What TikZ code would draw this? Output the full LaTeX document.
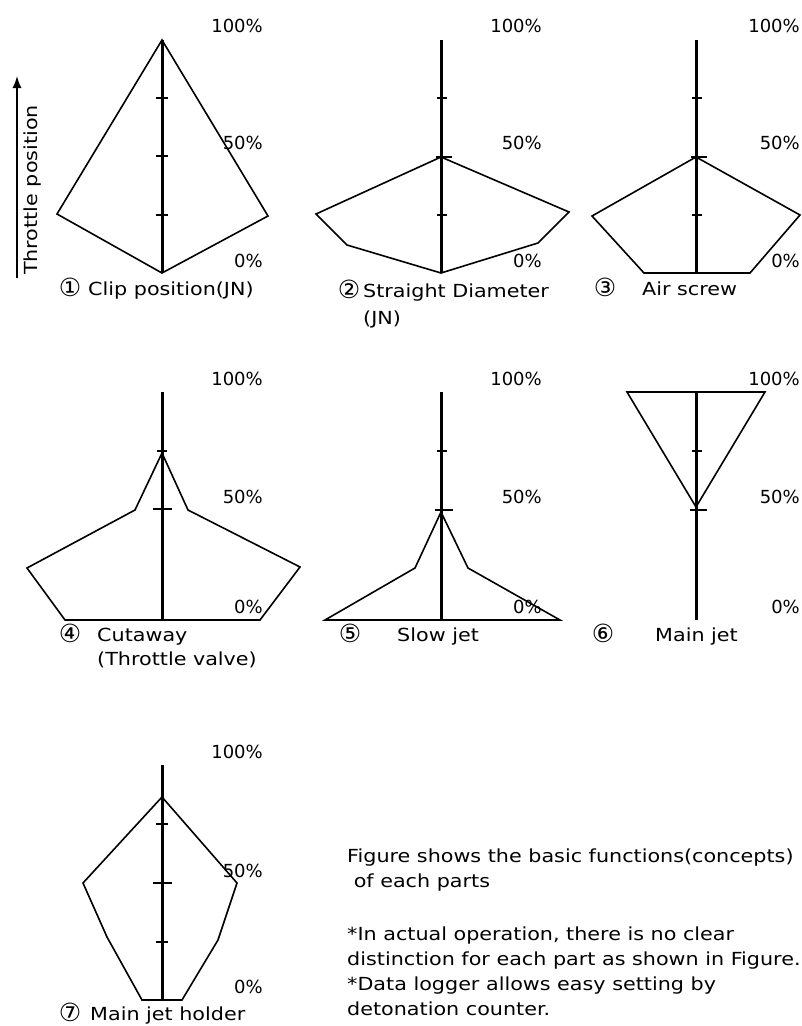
\documentclass[tikz,border=0pt]{standalone}
\usepackage{fontspec}
\setmainfont{DejaVu Sans}[FakeStretch=1.15]
\newfontfamily\pctfont{DejaVu Sans}
\usetikzlibrary{arrows.meta}

\begin{document}
\begin{tikzpicture}[
    x=1pt, y=-1pt,
    font=\fontsize{18}{25}\selectfont,
    axisline/.style={line width=3pt},
    profile/.style={line width=1.6pt, line join=miter},
    tickmark/.style={line width=1.5pt},
    pct/.style={anchor=base east, inner sep=0pt, font=\pctfont\fontsize{18}{22}\selectfont},
    num/.style={anchor=base, inner sep=0pt, font=\pctfont\fontsize{25}{28}\selectfont},
    capt/.style={anchor=base west, inner sep=0pt},
    note/.style={anchor=base west, inner sep=0pt},
  ]
  \useasboundingbox (0,0) rectangle (802,1026);
  % throttle arrow
  \coordinate (tlow) at (17,278);
  \coordinate (thigh) at (17,76);
  \draw[-{Latex[length=12pt,width=9pt]}, line width=1.4pt] (tlow) -- (thigh);
  \node[rotate=90, inner sep=0pt] (tlabel) at (33,190) {Throttle position};
  % (1) clip position
  \draw[profile] (162,40) -- (268,216) -- (162,273) -- (57,214) -- cycle;
  \draw[axisline] (162,40) -- (162,273);
  \draw[tickmark] (156,98) -- (168,98);
  \draw[tickmark] (156,156) -- (168,156);
  \draw[tickmark] (156,215) -- (168,215);
  \node[pct] (p1top) at (263,32) {100\%};
  \node[pct] (p1mid) at (263,149) {50\%};
  \node[pct] (p1bot) at (263,267) {0\%};
  \node[num] (n1) at (70,296) {①};
  \node[capt] (c1) at (88,295) {Clip position(JN)};
  % (2) straight diameter
  \draw[profile] (441,157) -- (569,212) -- (538,243) -- (441,273) -- (347,245) -- (316,214) -- cycle;
  \draw[axisline] (441,40) -- (441,273);
  \draw[tickmark] (437,98) -- (447,98);
  \draw[tickmark] (436,157) -- (452,157);
  \draw[tickmark] (437,215) -- (447,215);
  \node[pct] (p2top) at (542,32) {100\%};
  \node[pct] (p2mid) at (542,149) {50\%};
  \node[pct] (p2bot) at (542,267) {0\%};
  \node[num] (n2) at (349,298) {②};
  \node[capt] (c2) at (363,297) {Straight Diameter};
  \node[capt] (c2b) at (363,324) {(JN)};
  % (3) air screw
  \draw[profile] (696,157) -- (800,215) -- (750,273) -- (644,273) -- (592,216) -- cycle;
  \draw[axisline] (696,40) -- (696,273);
  \draw[tickmark] (692,98) -- (702,98);
  \draw[tickmark] (691,157) -- (707,157);
  \draw[tickmark] (692,215) -- (702,215);
  \node[pct] (p3top) at (800,32) {100\%};
  \node[pct] (p3mid) at (800,149) {50\%};
  \node[pct] (p3bot) at (800,267) {0\%};
  \node[num] (n3) at (605,296) {③};
  \node[capt] (c3) at (642,295) {Air screw};
  % (4) cutaway
  \draw[profile] (162,453) -- (188,510) -- (300,567) -- (260,620) -- (65,620) -- (27,568) -- (135,510) -- cycle;
  \draw[axisline] (162,392) -- (162,620);
  \draw[tickmark] (157,451) -- (167,451);
  \draw[tickmark] (153,509) -- (172,509);
  \node[pct] (p4top) at (263,385) {100\%};
  \node[pct] (p4mid) at (263,503) {50\%};
  \node[pct] (p4bot) at (263,613) {0\%};
  \node[num] (n4) at (70,642) {④};
  \node[capt] (c4) at (97,641) {Cutaway};
  \node[capt] (c4b) at (97,665) {(Throttle valve)};
  % (5) slow jet
  \draw[profile] (441,512) -- (468,568) -- (560,620) -- (325,620) -- (415,568) -- cycle;
  \draw[axisline] (441,392) -- (441,620);
  \draw[tickmark] (437,451) -- (447,451);
  \draw[tickmark] (435,510) -- (453,510);
  \node[pct] (p5top) at (542,385) {100\%};
  \node[pct] (p5mid) at (542,503) {50\%};
  \node[pct] (p5bot) at (542,613) {0\%};
  \node[num] (n5) at (350,642) {⑤};
  \node[capt] (c5) at (397,641) {Slow jet};
  % (6) main jet
  \draw[profile] (627,392) -- (765,392) -- (696,507) -- cycle;
  \draw[axisline] (696,392) -- (696,620);
  \draw[tickmark] (692,451) -- (702,451);
  \draw[tickmark] (690,510) -- (707,510);
  \node[pct] (p6top) at (800,385) {100\%};
  \node[pct] (p6mid) at (800,503) {50\%};
  \node[pct] (p6bot) at (800,613) {0\%};
  \node[num] (n6) at (603,642) {⑥};
  \node[capt] (c6) at (655,641) {Main jet};
  % (7) main jet holder
  \draw[profile] (162,797) -- (237,883) -- (218,940) -- (182,1000) -- (142,1000) -- (107,937) -- (83,883) -- cycle;
  \draw[axisline] (162,765) -- (162,1000);
  \draw[tickmark] (156,824) -- (168,824);
  \draw[tickmark] (153,883) -- (172,883);
  \draw[tickmark] (156,942) -- (168,942);
  \node[pct] (p7top) at (263,758) {100\%};
  \node[pct] (p7mid) at (263,877) {50\%};
  \node[pct] (p7bot) at (263,993) {0\%};
  \node[num] (n7) at (70,1021) {⑦};
  \node[capt] (c7) at (90,1020) {Main jet holder};
  % notes
  \node[note] (note1) at (347,862) {Figure shows the basic functions(concepts)};
  \node[note] (note2) at (347,887) {\ of each parts};
  \node[note] (note3) at (347,940) {*In actual operation, there is no clear};
  \node[note] (note4) at (347,965) {distinction for each part as shown in Figure.};
  \node[note] (note5) at (347,990) {*Data logger allows easy setting by};
  \node[note] (note6) at (347,1015) {detonation counter.};
\end{tikzpicture}
\end{document}
